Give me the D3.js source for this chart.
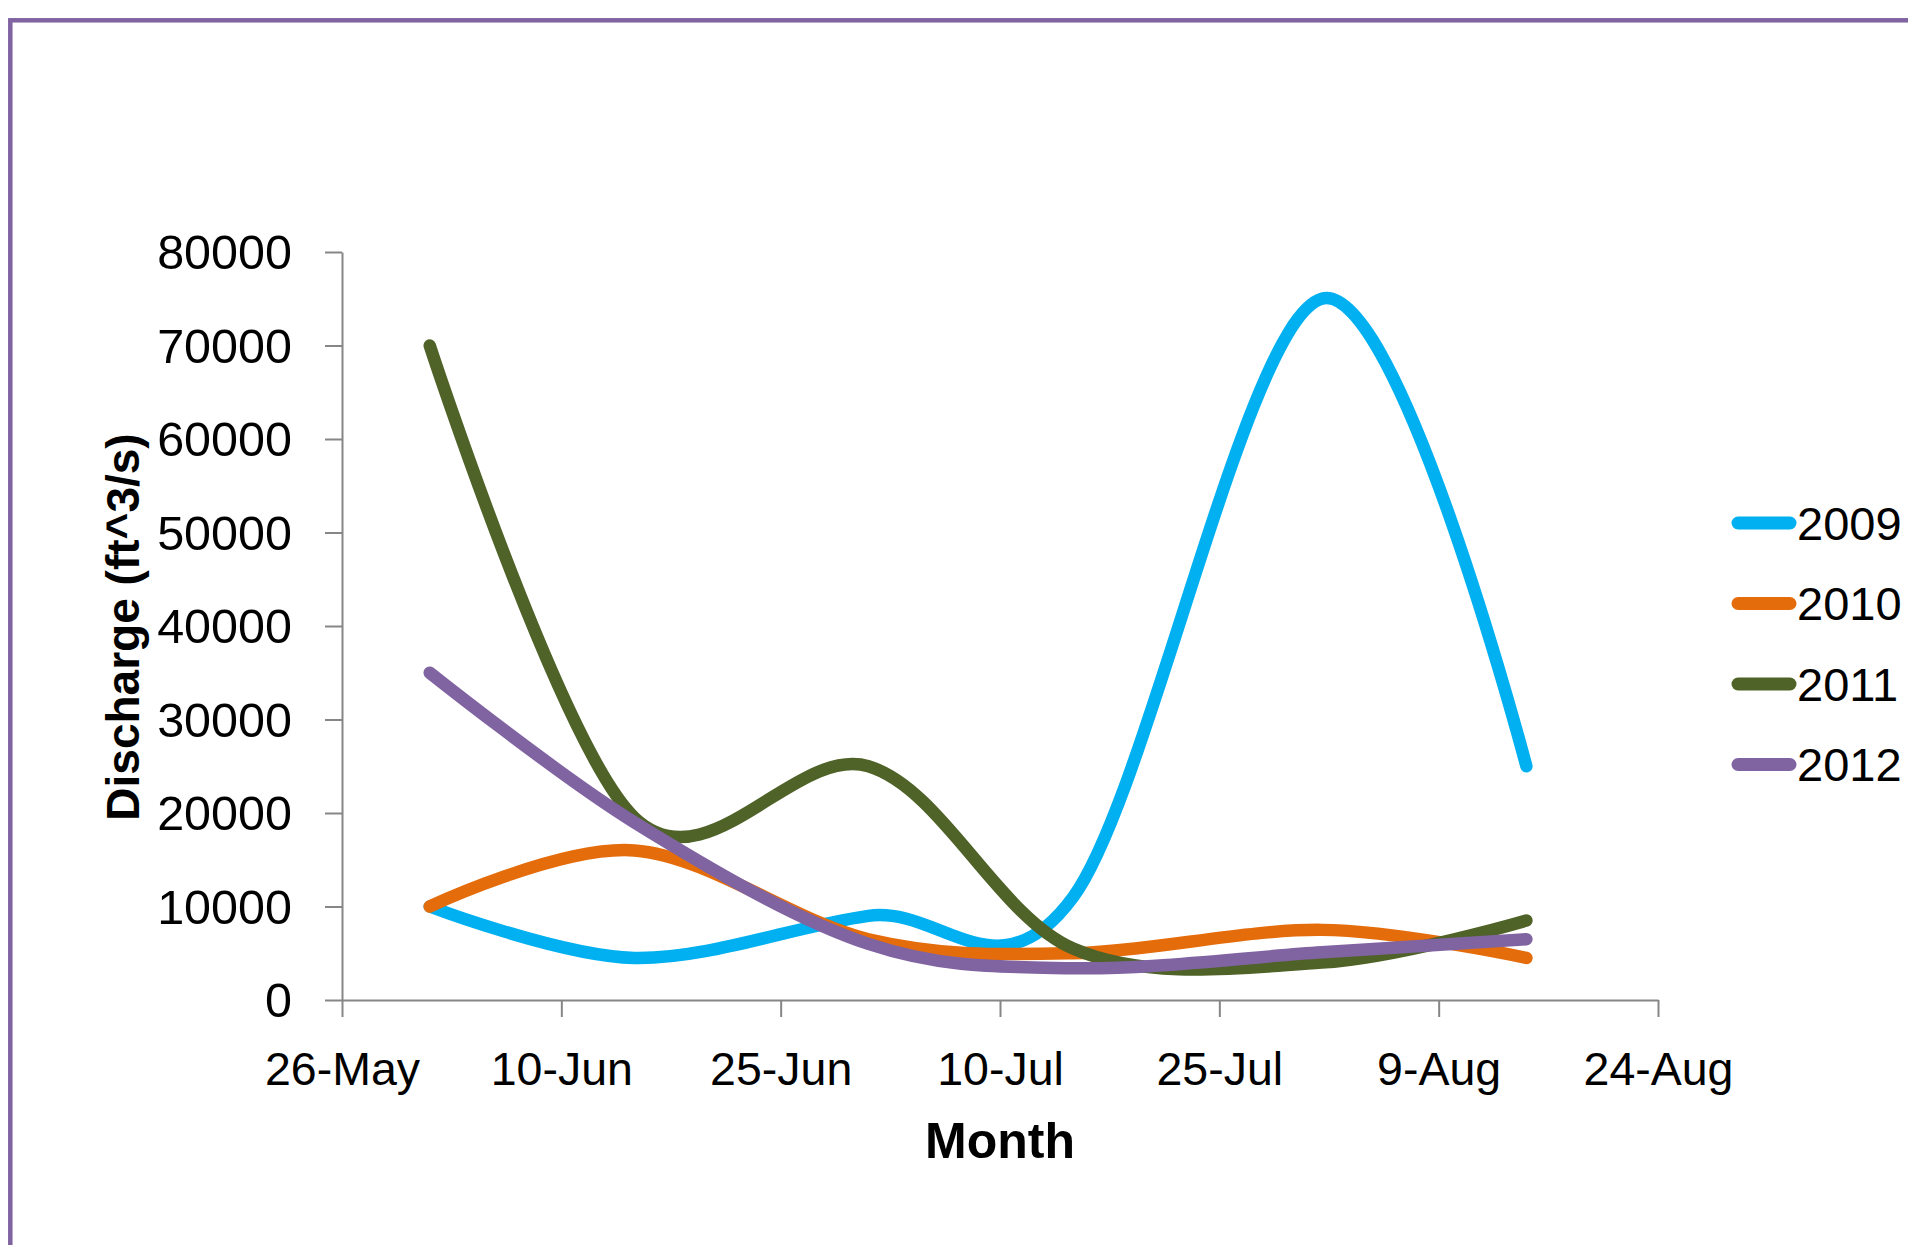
<!DOCTYPE html>
<html>
<head>
<meta charset="utf-8">
<script src="https://cdn.jsdelivr.net/npm/d3@7"></script>
<style>
  html, body { margin: 0; padding: 0; background: #fff; }
  svg { display: block; }
  text { font-family: "Liberation Sans", Arial, sans-serif; fill: #000; }
</style>
</head>
<body>
<svg id="chart" width="1908" height="1245"></svg>
<script>
// Sampling dates (month-day, shown on a common calendar year)
const sampleDates = ["06-01", "06-15", "07-01", "07-15", "08-01", "08-15"];

// Discharge (ft^3/s) per year at each sampling date
const years = ["2009", "2010", "2011", "2012"];
const q2009 = [10000, 4500, 9000, 11000, 75000, 25000];
const q2010 = [10000, 16000, 6500, 5000, 7500, 4500];
const q2011 = [70000, 19500, 25000, 5500, 4000, 8500];
const q2012 = [35000, 19000, 6000, 3400, 5100, 6500];
const seriesColors = ["#00B0F0", "#E46C0A", "#4F6228", "#8064A2"];

// Axis ticks
const xTickDates = ["05-26", "06-10", "06-25", "07-10", "07-25", "08-09", "08-24"];
const yTickValues = [0, 10000, 20000, 30000, 40000, 50000, 60000, 70000, 80000];

const parseDay = d3.timeParse("%Y-%m-%d");
const toDate = md => parseDay("2010-" + md);

const svg = d3.select("#chart");

// Outer chart-area frame
svg.append("rect")
  .attr("x", 10.3).attr("y", 20.3)
  .attr("width", 2000).attr("height", 1400)
  .attr("fill", "none")
  .attr("stroke", "#8064A2")
  .attr("stroke-width", 4.5);

const x = d3.scaleTime()
  .domain([toDate(xTickDates[0]), toDate(xTickDates[xTickDates.length - 1])])
  .range([342, 1658]);
const y = d3.scaleLinear()
  .domain([0, 80000])
  .range([1000, 252]);

const axisColor = "#868686";

// Y axis
const gy = svg.append("g")
  .attr("transform", "translate(342,0)")
  .call(d3.axisLeft(y).tickValues(yTickValues).tickSize(17).tickSizeOuter(0).tickPadding(33)
    .tickFormat(d3.format("d")));
gy.selectAll("path.domain, line").attr("stroke", axisColor).attr("stroke-width", 2);
gy.selectAll("text")
  .attr("font-family", "Liberation Sans, Arial, sans-serif")
  .attr("font-size", 48.5)
  .attr("dy", "0.35em")
  .attr("fill", "#000");

// X axis
const gx = svg.append("g")
  .attr("transform", "translate(0,1000)")
  .call(d3.axisBottom(x).tickValues(xTickDates.map(toDate)).tickSize(17).tickSizeOuter(0)
    .tickFormat(d3.timeFormat("%-d-%b")));
gx.selectAll("path.domain, line").attr("stroke", axisColor).attr("stroke-width", 2);
gx.selectAll("text")
  .attr("font-family", "Liberation Sans, Arial, sans-serif")
  .attr("font-size", 46.5)
  .attr("y", 85)
  .attr("dy", 0)
  .attr("fill", "#000");

// Axis titles
svg.append("text")
  .attr("transform", "translate(139,627) rotate(-90)")
  .attr("text-anchor", "middle")
  .attr("font-size", 46)
  .attr("font-weight", "bold")
  .text("Discharge (ft^3/s)");

svg.append("text")
  .attr("x", 1000).attr("y", 1158)
  .attr("text-anchor", "middle")
  .attr("font-size", 50)
  .attr("font-weight", "bold")
  .text("Month");

// Smoothed discharge lines
const seriesValues = [q2009, q2010, q2011, q2012];
const line = d3.line()
  .x(d => x(d.date))
  .y(d => y(d.value))
  .curve(d3.curveCardinal.tension(0));

years.forEach((yr, i) => {
  const pts = sampleDates.map((md, j) => ({ date: toDate(md), value: seriesValues[i][j] }));
  svg.append("path")
    .datum(pts)
    .attr("d", line)
    .attr("fill", "none")
    .attr("stroke", seriesColors[i])
    .attr("stroke-width", 12.5)
    .attr("stroke-linecap", "round")
    .attr("stroke-linejoin", "round");
});

// Legend
const legend = svg.append("g").attr("transform", "translate(1738,523)");
years.forEach((yr, i) => {
  const g = legend.append("g").attr("transform", `translate(0,${i * 80.5})`);
  g.append("line")
    .attr("x1", 0).attr("x2", 52)
    .attr("stroke", seriesColors[i])
    .attr("stroke-width", 13)
    .attr("stroke-linecap", "round");
  g.append("text")
    .attr("x", 59).attr("y", 16.5)
    .attr("font-size", 47)
    .text(yr);
});
</script>
</body>
</html>
